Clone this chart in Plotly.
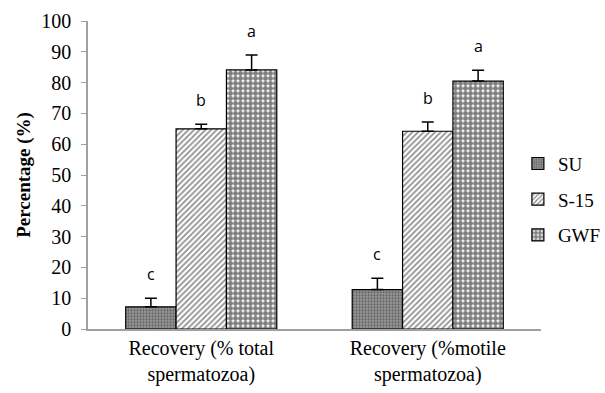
import plotly.graph_objects as go

categories = ["Recovery (% total<br>spermatozoa)", "Recovery (%motile<br>spermatozoa)"]
series = ["SU", "S-15", "GWF"]
su_vals = [7.2, 12.8]
su_err = [2.8, 3.7]
s15_vals = [65.0, 64.2]
s15_err = [1.5, 3.0]
gwf_vals = [84.1, 80.5]
gwf_err = [4.9, 3.5]
su_letters = ["c", "c"]
s15_letters = ["b", "b"]
gwf_letters = ["a", "a"]
y_ticks = [0, 10, 20, 30, 40, 50, 60, 70, 80, 90, 100]

patterns = [
    dict(shape=".", fgcolor="#333333", bgcolor="#999999", size=3, solidity=0.45),
    dict(shape="/", fgcolor="#222222", bgcolor="white", size=4, solidity=0.45),
    dict(shape=".", fgcolor="#000000", bgcolor="white", size=5, solidity=0.75),
]
vals = [su_vals, s15_vals, gwf_vals]
errs = [su_err, s15_err, gwf_err]
letters = [su_letters, s15_letters, gwf_letters]

L, R, T, B = 88, 64, 21, 64
W, H = 605, 393
plot_w = W - L - R
bargap = 0.333
bar_px = plot_w / len(categories) * (1 - bargap) / len(series)

fig = go.Figure()
annotations = []
for i, name in enumerate(series):
    fig.add_trace(go.Bar(
        name=name, x=categories, y=vals[i], legendgroup=name,
        error_y=dict(type="data", array=errs[i], arrayminus=[0, 0], symmetric=False,
                     color="black", thickness=1.5, width=6),
        marker=dict(pattern=patterns[i], line=dict(color="black", width=1.2)),
    ))
    for j, cat in enumerate(categories):
        annotations.append(dict(
            x=cat, y=vals[i][j] + errs[i][j], xref="x", yref="y",
            text=letters[i][j], showarrow=False, yanchor="middle",
            xshift=(i - 1) * bar_px, yshift=24,
            font=dict(family="Open Sans, Liberation Sans, sans-serif", size=16, color="black"),
        ))

fig.update_layout(
    width=W, height=H,
    margin=dict(l=L, r=R, t=T, b=B, autoexpand=False),
    plot_bgcolor="white", paper_bgcolor="white",
    barmode="group", bargap=bargap, bargroupgap=0,
    font=dict(family="Liberation Serif, Times New Roman, serif", size=20, color="black"),
    annotations=annotations,
    legend=dict(x=0.949, y=0.42, xanchor="left", yanchor="middle",
                font=dict(family="Liberation Serif, serif", size=19),
                itemwidth=30, tracegroupgap=8, traceorder="grouped",
                bgcolor="rgba(0,0,0,0)"),
    xaxis=dict(showline=True, linecolor="#a0a0a0", linewidth=1.5, ticks="",
               tickfont=dict(size=20), automargin=False),
    yaxis=dict(range=[0, 100], tickvals=y_ticks, showline=True, linecolor="#a0a0a0",
               linewidth=1.5, ticks="outside", ticklen=5, tickcolor="#a0a0a0",
               showgrid=False, zeroline=False, automargin=False,
               tickfont=dict(size=20), ticklabelstandoff=6,
               title=dict(text="<b>Percentage (%)</b>", font=dict(size=19), standoff=6)),
)
fig.write_html("out.html", config={"displayModeBar": False},
               post_script="document.body.style.margin='0';")
